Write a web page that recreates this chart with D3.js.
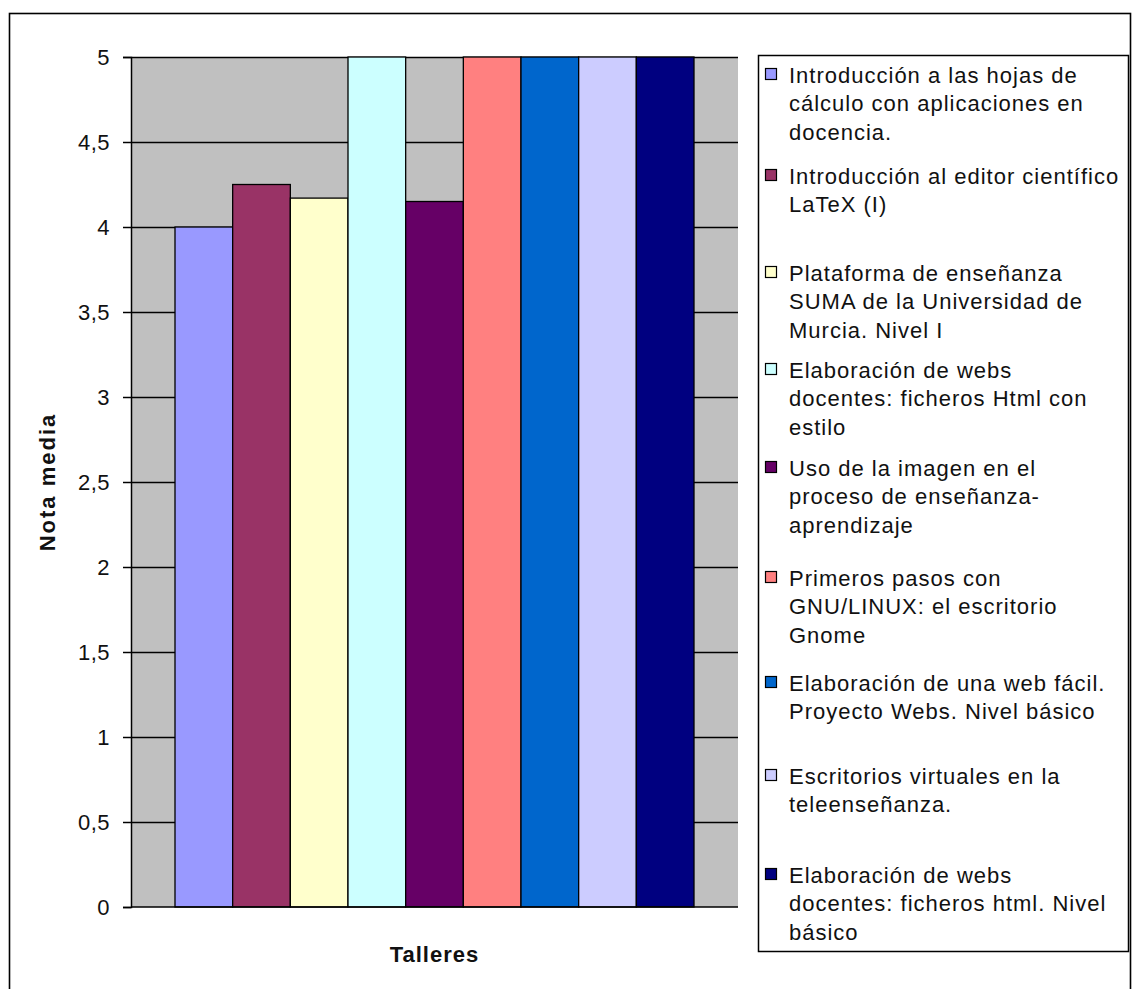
<!DOCTYPE html>
<html>
<head>
<meta charset="utf-8">
<script src="https://cdn.jsdelivr.net/npm/d3@7/dist/d3.min.js"></script>
<style>
  html, body { margin: 0; padding: 0; background: #fff; }
  svg { display: block; font-family: "Liberation Sans", Arial, sans-serif; }
</style>
</head>
<body>
<svg id="chart" width="1132" height="989"></svg>
<script>
// Workshop names (legend text, line breaks as laid out in the legend)
const talleres = [
  "Introducción a las hojas de\ncálculo con aplicaciones en\ndocencia.",
  "Introducción al editor científico\nLaTeX (I)",
  "Plataforma de enseñanza\nSUMA de la Universidad de\nMurcia. Nivel I",
  "Elaboración de webs\ndocentes: ficheros Html con\nestilo",
  "Uso de la imagen en el\nproceso de enseñanza-\naprendizaje",
  "Primeros pasos con\nGNU/LINUX: el escritorio\nGnome",
  "Elaboración de una web fácil.\nProyecto Webs. Nivel básico",
  "Escritorios virtuales en la\nteleenseñanza.",
  "Elaboración de webs\ndocentes: ficheros html. Nivel\nbásico"
];

// Average score per workshop
const notaMedia = [4.0, 4.25, 4.17, 5.0, 4.15, 5.0, 5.0, 5.0, 5.0];

// Series fill colours
const colores = ["#9999FF", "#993366", "#FFFFCC", "#CCFFFF", "#660066",
                 "#FF8080", "#0066CC", "#CCCCFF", "#000080"];

// Value axis ticks
const ticks = [0, 0.5, 1, 1.5, 2, 2.5, 3, 3.5, 4, 4.5, 5];

const svg = d3.select("#chart");
const plot = { left: 131, right: 738, top: 57, bottom: 907 };

// Outer chart frame
svg.append("rect")
  .attr("x", 9.5).attr("y", 13.5)
  .attr("width", 1121).attr("height", 990)
  .attr("fill", "#fff").attr("stroke", "#000").attr("stroke-width", 1.6);

const y = d3.scaleLinear().domain([0, 5]).range([plot.bottom, plot.top]);
const x = d3.scaleBand()
  .domain(d3.range(notaMedia.length))
  .range([plot.left, plot.right])
  .paddingInner(0)
  .paddingOuter(0.763);

// Plot area
svg.append("rect")
  .attr("x", plot.left).attr("y", plot.top)
  .attr("width", plot.right - plot.left).attr("height", plot.bottom - plot.top)
  .attr("fill", "#C0C0C0");

// Gridlines
svg.append("g")
  .selectAll("line")
  .data(ticks.filter(t => t > 0))
  .join("line")
  .attr("x1", plot.left).attr("x2", plot.right)
  .attr("y1", d => Math.round(y(d)) + 0.5).attr("y2", d => Math.round(y(d)) + 0.5)
  .attr("stroke", "#000").attr("stroke-width", 1.3);

// Bars
svg.append("g")
  .selectAll("rect")
  .data(notaMedia)
  .join("rect")
  .attr("x", (d, i) => x(i))
  .attr("y", d => y(d))
  .attr("width", x.bandwidth())
  .attr("height", d => y(0) - y(d))
  .attr("fill", (d, i) => colores[i])
  .attr("stroke", "#000").attr("stroke-width", 1.3);

// Value axis
const yAxis = d3.axisLeft(y)
  .tickValues(ticks)
  .tickSize(8)
  .tickPadding(13)
  .tickFormat(d => String(d).replace(".", ","));

const gy = svg.append("g")
  .attr("transform", `translate(${plot.left},0)`)
  .call(yAxis);
gy.select(".domain").attr("stroke", "#000").attr("stroke-width", 1.5);
gy.selectAll(".tick line").attr("stroke", "#000").attr("stroke-width", 1.5);
gy.selectAll(".tick text")
  .attr("fill", "#111")
  .style("font-size", "22px")
  .style("letter-spacing", "0.5px")
  .style("font-family", "'Liberation Sans', Arial, sans-serif");

// Category axis baseline
svg.append("line")
  .attr("x1", plot.left).attr("x2", plot.right)
  .attr("y1", y(0)).attr("y2", y(0))
  .attr("stroke", "#000").attr("stroke-width", 1.5);

// Axis titles
svg.append("text")
  .attr("transform", `translate(55,${(plot.top + plot.bottom) / 2}) rotate(-90)`)
  .attr("text-anchor", "middle")
  .style("font-size", "22px").style("font-weight", "bold")
  .style("letter-spacing", "2px")
  .attr("fill", "#111")
  .text("Nota media");

svg.append("text")
  .attr("x", (plot.left + plot.right) / 2).attr("y", 962)
  .attr("text-anchor", "middle")
  .style("font-size", "22px").style("font-weight", "bold")
  .style("letter-spacing", "1px")
  .attr("fill", "#111")
  .text("Talleres");

// Legend box and per-entry vertical offsets of the first text line
const legend = { x: 758, y: 55, w: 370, h: 896, lineH: 28.5 };
const legendRows = [75, 176, 273, 370, 468, 578, 683, 776, 875];

svg.append("rect")
  .attr("x", legend.x + 0.5).attr("y", legend.y + 0.5)
  .attr("width", legend.w).attr("height", legend.h)
  .attr("fill", "#fff").attr("stroke", "#000").attr("stroke-width", 1.5);

const items = svg.append("g")
  .selectAll("g")
  .data(talleres)
  .join("g")
  .attr("transform", (d, i) => `translate(0,${legendRows[i]})`);

items.append("rect")
  .attr("x", 765.5).attr("y", -6.5)
  .attr("width", 11).attr("height", 11)
  .attr("fill", (d, i) => colores[i])
  .attr("stroke", "#000").attr("stroke-width", 1.2);

items.append("text")
  .attr("x", 789)
  .attr("y", 0)
  .style("font-size", "22px")
  .style("letter-spacing", "1px")
  .attr("fill", "#111")
  .selectAll("tspan")
  .data(d => d.split("\n"))
  .join("tspan")
  .attr("x", 789)
  .attr("y", (d, j) => j * legend.lineH)
  .attr("dy", "0.35em")
  .text(d => d);
</script>
</body>
</html>
